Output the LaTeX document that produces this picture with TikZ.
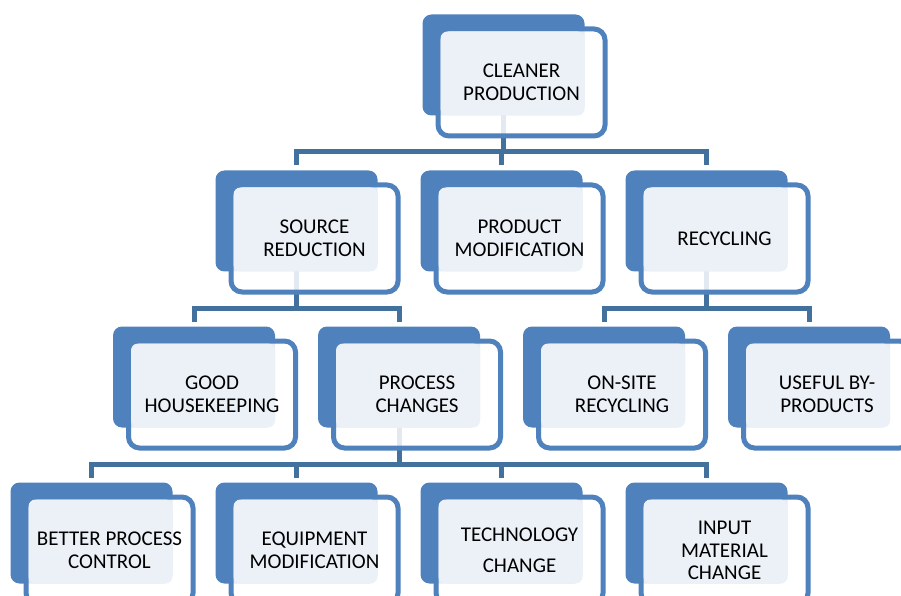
\documentclass[tikz,border=0pt]{standalone}
\usepackage{fontspec}
\setmainfont{Carlito}
\usetikzlibrary{positioning}
\definecolor{boxblue}{HTML}{4F81BD}
\definecolor{linkblue}{HTML}{41719C}
\definecolor{panelblue}{HTML}{ECF1F8}

\begin{document}
\begin{tikzpicture}[x=1pt,y=1pt,node distance=205pt,on grid,
  backbox/.style={rectangle,rounded corners=9pt,fill=boxblue,minimum width=162pt,
    minimum height=101pt,inner sep=0pt,outer sep=0pt},
  rim/.style={rectangle,rounded corners=11pt,draw=boxblue,line width=5pt,fill=white,
    fill opacity=0.85,minimum width=167pt,minimum height=107pt,inner sep=0pt,
    outer sep=0pt,anchor=north west},
  panel/.style={fill=panelblue,rounded corners=7pt},
  txt/.style={align=center,font=\fontsize{21}{22.5}\selectfont,text=black},
  link/.style={draw=linkblue,line width=5pt}]

  \clip (0,0) rectangle (901,595);

  % bottom row
  \node[backbox] (bp) at (91.5,62) {};
  \node[backbox] (em) [right=of bp] {};
  \node[backbox] (tc) [right=of em] {};
  \node[backbox] (im) [right=of tc] {};
  % third row
  \node[backbox] (gh) [above right=156pt and 102.5pt of bp] {};
  \node[backbox] (pc) [right=of gh] {};
  \node[backbox] (os) [right=of pc] {};
  \node[backbox] (ub) [right=of os] {};
  % second row
  \node[backbox] (sr) [above right=156pt and 102.5pt of gh] {};
  \node[backbox] (pm) [right=of sr] {};
  \node[backbox] (rc) [right=of pm] {};
  % top
  \node[backbox] (cp) [above=156pt of pm, xshift=2pt] {};

  % connectors
  \draw[link] (cp.south) -- ++(0,-36) coordinate (cp-j);
  \draw[link,shorten >=5pt] (cp-j) -| (sr.north);
  \draw[link,shorten >=5pt] (cp-j) -| (pm.north);
  \draw[link,shorten >=5pt] (cp-j) -| (rc.north);

  \draw[link] (sr.south) -- ++(0,-37) coordinate (sr-j);
  \draw[link,shorten >=5pt] (sr-j) -| (gh.north);
  \draw[link,shorten >=5pt] (sr-j) -| (pc.north);

  \draw[link] (rc.south) -- ++(0,-37) coordinate (rc-j);
  \draw[link,shorten >=5pt] (rc-j) -| (os.north);
  \draw[link,shorten >=5pt] (rc-j) -| (ub.north);

  \draw[link] (pc.south) -- ++(0,-37) coordinate (pc-j);
  \draw[link,shorten >=5pt] (pc-j) -| (bp.north);
  \draw[link,shorten >=5pt] (pc-j) -| (em.north);
  \draw[link,shorten >=5pt] (pc-j) -| (tc.north);
  \draw[link,shorten >=5pt] (pc-j) -| (im.north);

  % frames, panels and texts
  \foreach \n/\t in {cp/{CLEANER\\PRODUCTION},
      sr/{SOURCE\\REDUCTION}, pm/{PRODUCT\\MODIFICATION}, rc/{RECYCLING},
      gh/{GOOD\\HOUSEKEEPING}, pc/{PROCESS\\CHANGES},
      os/{ON-SITE\\RECYCLING}, ub/{USEFUL BY-\\PRODUCTS},
      bp/{BETTER PROCESS\\CONTROL}, em/{EQUIPMENT\\MODIFICATION},
      tc/{TECHNOLOGY\\[9pt]CHANGE}, im/{INPUT\\MATERIAL\\CHANGE}} {
    \node[rim] (\n-r) at ([shift={(15.5,-14.5)}]\n.north west) {};
    \fill[panel] ([shift={(2.5,-2.5)}]\n-r.north west) rectangle (\n.south east);
    \node[txt] (\n-t) at (\n-r.center) {\t};
  }
\end{tikzpicture}
\end{document}
